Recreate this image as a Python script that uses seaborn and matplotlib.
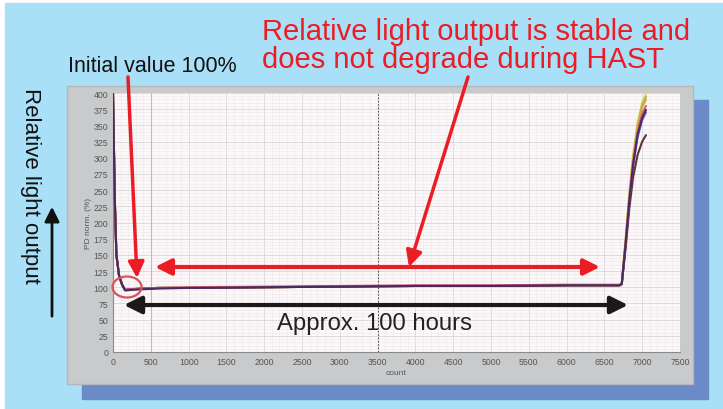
"""HAST light output chart, recreated with seaborn."""

import matplotlib

matplotlib.use("Agg")
import matplotlib.pyplot as plt
import numpy as np
import pandas as pd
import seaborn as sns
from matplotlib.patches import Ellipse, Rectangle
from matplotlib.ticker import MultipleLocator

# --- data ------------------------------------------------------------------
count = [0, 10, 25, 45, 80, 120, 160, 250, 400, 600, 1000, 2000, 3000,
         4000, 5000, 6000, 6700, 6730, 6780, 6830, 6880, 6940, 7000, 7050]

series_names = ["ch1", "ch2", "ch3", "ch4", "ch5", "ch6", "ch7"]
series_colors = ["#e6d94a", "#8fc45a", "#e8a048", "#6c74c4", "#5a3440",
                 "#d65c7a", "#4a2a5c"]

ch1 = [400, 330, 230, 150, 118, 104, 96, 97, 98, 99, 99, 100, 101, 102, 102, 103, 103, 106, 175, 245, 305, 355, 385, 398]
ch2 = [400, 330, 230, 150, 118, 104, 96, 97, 98, 99, 99, 100, 101, 102, 102, 103, 103, 106, 172, 242, 300, 350, 382, 394]
ch3 = [400, 330, 230, 150, 118, 104, 96, 97, 98, 99, 99, 100, 101, 102, 102, 103, 103, 106, 170, 240, 298, 345, 378, 390]
ch4 = [400, 330, 230, 150, 118, 104, 96, 97, 98, 99, 99, 100, 101, 102, 102, 103, 103, 105, 165, 232, 288, 332, 358, 370]
ch5 = [400, 330, 230, 150, 118, 104, 96, 97, 98, 99, 99, 100, 101, 102, 102, 103, 103, 105, 160, 222, 270, 305, 325, 335]
ch6 = [400, 330, 230, 150, 118, 104, 96, 97, 98, 99, 100, 101, 102, 103, 103, 104, 104, 106, 168, 236, 292, 340, 368, 380]
ch7 = [400, 330, 230, 150, 118, 104, 95, 96, 97, 98, 99, 100, 101, 102, 102, 103, 103, 105, 166, 234, 290, 336, 362, 374]

x_ticks = list(range(0, 7501, 500))
y_ticks = list(range(0, 401, 25))

title_lines = "Relative light output is stable and\ndoes not degrade during HAST"
initial_text = "Initial value 100%"
span_text = "Approx. 100 hours"
side_text = "Relative light output"

# --- figure ------------------------------------------------------------------
W, H = 723, 410
RED = "#ec1c24"

sns.set_theme(style="white")
plt.rcParams["font.family"] = ["Liberation Sans", "DejaVu Sans"]

fig = plt.figure(figsize=(W / 100, H / 100), dpi=100, facecolor="white")


def px_rect(x0, y0, x1, y1, **kw):
    """Rectangle in picture pixels (origin top left) as a figure patch."""
    fig.patches.append(Rectangle((x0 / W, 1 - y1 / H), (x1 - x0) / W, (y1 - y0) / H,
                                 transform=fig.transFigure, **kw))


px_rect(5, 4, W, H, color="#a9e0f8", zorder=0)
px_rect(82, 101, 708, 400, color="#6a8ac8", zorder=1)
px_rect(67, 87, 693, 385, facecolor="#c9cacc", edgecolor="#b5b6b8", lw=1, zorder=2)

ax = fig.add_axes([113 / W, 1 - 353 / H, (680 - 113) / W, (353 - 94) / H])
ax.set_zorder(3)
ax.set_facecolor("#fcf7f8")

df = pd.DataFrame({"count": count * len(series_names),
                   "value": ch1 + ch2 + ch3 + ch4 + ch5 + ch6 + ch7,
                   "series": np.repeat(series_names, len(count))})
sns.lineplot(data=df, x="count", y="value", hue="series", hue_order=series_names,
             palette=series_colors, lw=1.5, legend=False, ax=ax, zorder=4)

ax.set_xlim(0, 7500)
ax.set_ylim(0, 400)
ax.set_xticks(x_ticks)
ax.set_yticks(y_ticks)
ax.xaxis.set_minor_locator(MultipleLocator(100))
ax.yaxis.set_minor_locator(MultipleLocator(5))
ax.grid(which="major", color="#d9d6d8", lw=0.6)
ax.grid(which="minor", color="#ece8ea", lw=0.4)
ax.set_axisbelow(True)
ax.tick_params(labelsize=6.3, colors="#555555", length=2, width=0.6, pad=1.5)
ax.tick_params(which="minor", length=0)
for side in ["top", "right"]:
    ax.spines[side].set_visible(False)
for side in ["left", "bottom"]:
    ax.spines[side].set_color("#8a8a8a")
    ax.spines[side].set_linewidth(0.8)
ax.set_xlabel("count", fontsize=6, color="#555555", labelpad=2)
ax.set_ylabel("PD norm. (%)", fontsize=6, color="#555555", labelpad=1)

# cursor lines from the instrument software
ax.axvline(500, color="#eaa8a8", lw=0.8, zorder=2)
ax.axvline(3500, color="#555555", lw=0.8, ls=(0, (1.5, 1.5)), zorder=2)

# --- annotations (picture pixels, origin top left) ---------------------------
def fp(x, y):
    return (x, H - y)


fig.text(262 / W, 1 - 18 / H, title_lines, color=RED, fontsize=21, ha="left", va="top",
         linespacing=1.0, zorder=10)
fig.text(68 / W, 1 - 67 / H, initial_text, color="#111111", fontsize=15.5, ha="left",
         va="center", zorder=10)
fig.text(374 / W, 1 - 324 / H, span_text, color="#222222", fontsize=17.2, ha="center",
         va="center", zorder=10)
fig.text(30 / W, 1 - 186 / H, side_text, color="#111111", fontsize=16, rotation=-90,
         ha="center", va="center", zorder=10)

arrow_kw = dict(xycoords="figure pixels", textcoords="figure pixels", zorder=10)
ax.annotate("", xy=fp(52, 205), xytext=fp(52, 320),
            arrowprops=dict(arrowstyle="-|>", color="#111111", lw=2, mutation_scale=22),
            **arrow_kw)
ax.annotate("", xy=fp(137, 279), xytext=fp(128, 78),
            arrowprops=dict(arrowstyle="-|>", color=RED, lw=2.5, mutation_scale=24,
                            shrinkA=0, shrinkB=0), **arrow_kw)
ax.annotate("", xy=fp(409, 268), xytext=fp(468, 78),
            arrowprops=dict(arrowstyle="-|>", color=RED, lw=2.5, mutation_scale=24,
                            shrinkA=0, shrinkB=0), **arrow_kw)
ax.annotate("", xy=fp(155, 268), xytext=fp(600, 268),
            arrowprops=dict(arrowstyle="<|-|>", color=RED, lw=3, mutation_scale=24,
                            shrinkA=0, shrinkB=0), **arrow_kw)
ax.annotate("", xy=fp(124, 306), xytext=fp(628, 306),
            arrowprops=dict(arrowstyle="<|-|>", color="#1a1a1a", lw=3, mutation_scale=26,
                            shrinkA=0, shrinkB=0), **arrow_kw)

fig.patches.append(Ellipse((127 / W, 1 - 288 / H), 29 / W, 21 / H, transform=fig.transFigure,
                           fill=False, edgecolor="#e0505a", lw=1.6, zorder=10))

fig.savefig("out.png", dpi=100, facecolor=fig.get_facecolor())
